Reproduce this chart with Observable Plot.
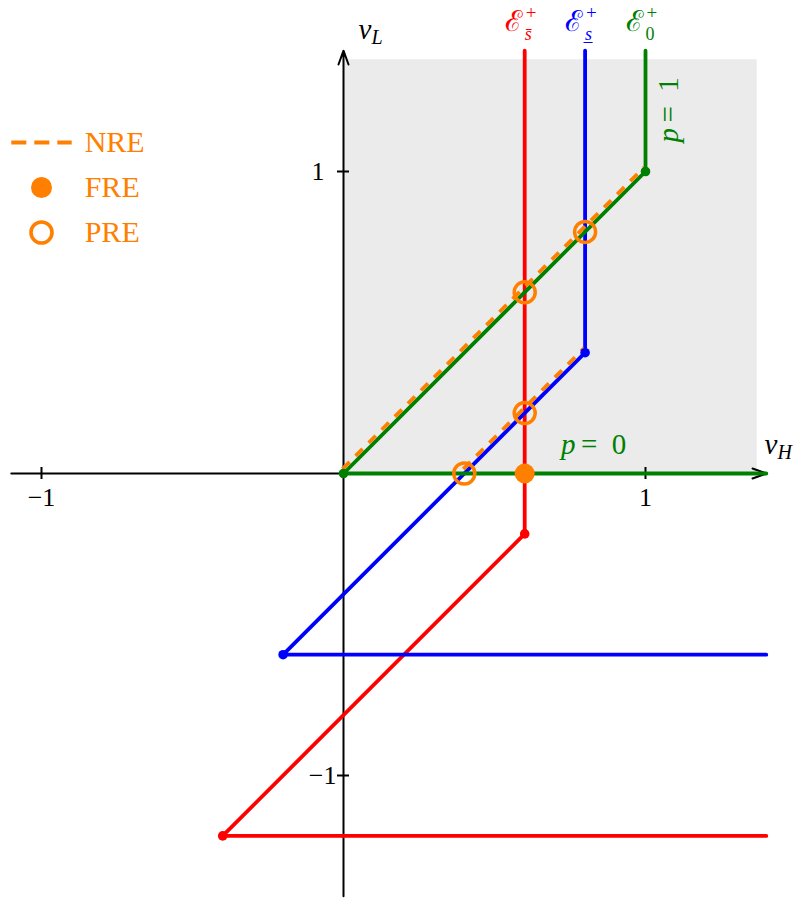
<!DOCTYPE html>
<html>
<head>
<meta charset="utf-8">
<script src="https://cdn.jsdelivr.net/npm/d3@7"></script>
<script src="https://cdn.jsdelivr.net/npm/@observablehq/plot@0.6"></script>
<style>
  html, body { margin: 0; padding: 0; background: #fff; }
</style>
</head>
<body>
<div id="chart"></div>
<script>
// ---------- data (values in chart units) ----------
const redPath   = [[0.6, 1.4], [0.6, -0.2], [-0.4, -1.2], [1.4, -1.2]];
const bluePath  = [[0.8, 1.4], [0.8, 0.4], [-0.2, -0.6], [1.4, -0.6]];
const greenPath = [[1, 1.4], [1, 1], [0, 0], [1.4, 0]];
const redDots   = [[0.6, -0.2], [-0.4, -1.2]];
const blueDots  = [[0.8, 0.4], [-0.2, -0.6]];
const greenDots = [[0, 0], [1, 1]];
const nreSegments = [[0, 0, 1, 1], [0.4, 0, 0.8, 0.4]];
const freDots = [[0.6, 0]];
const preDots = [[0.4, 0], [0.6, 0.2], [0.6, 0.6], [0.8, 0.8]];
const region = [[0, 1.37, 0, 1.37]];           // x1, x2, y1, y2 of the shaded region
const xAxisExtent = [-1.1, 1.4];
const yAxisExtent = [-1.4, 1.4];
const xTicks = [-1, 1];
const xTickLabels = ["\u22121", "1"];
const yTicks = [1, -1];
const yTickLabels = ["1", "\u22121"];
const curveLabelX = [0.6, 0.8, 1];
const curveLabelSubs = ["s\u0304", "s\u0332", "0"];
const curveLabelY = 1.464;
const legendLabels = ["NRE", "FRE", "PRE"];
const legendRowY = [1.096, 0.947, 0.798];
const legendSymbolX = -1.0;
const legendLineX = [-1.1, -0.9];
const legendTextX = -0.857;
const axisLabelAnchors = [[0.05, 1.44], [1.394, 0.066]];   // v_L, v_H
const axisLabelSubs = ["L", "H"];
const pLabelAnchors = [[0.72, 0.066], [1.109, 1.096]];     // p = 0, p = 1
const pLabelValues = ["0", "1"];

// ---------- styles ----------
const RED = "#ff0000", BLUE = "#0000ff", GREEN = "#008000", ORANGE = "#ff8000";
const curveColors = [RED, BLUE, GREEN];
const serif = "'Liberation Serif', 'DejaVu Serif', serif";
const LW = 3.8;

const X = d => d[0], Y = d => d[1];

const marks = [
  Plot.rect(region, {x1: d => d[0], x2: d => d[1], y1: d => d[2], y2: d => d[3], fill: "#ebebeb"}),
  // axes
  Plot.arrow([xAxisExtent], {x1: d => d[0], x2: d => d[1], y1: 0, y2: 0, stroke: "black", strokeWidth: 2, headLength: 11, headAngle: 40}),
  Plot.arrow([yAxisExtent], {x1: 0, x2: 0, y1: d => d[0], y2: d => d[1], stroke: "black", strokeWidth: 2, headLength: 11, headAngle: 40}),
  Plot.ruleX(xTicks, {x: d => d, y1: 0, y2: 0, insetTop: -6, insetBottom: -6, stroke: "black", strokeWidth: 2}),
  Plot.ruleY(yTicks, {y: d => d, x1: 0, x2: 0, insetLeft: -6, insetRight: -6, stroke: "black", strokeWidth: 2}),
  Plot.text(xTicks, {x: d => d, y: 0, text: (d, i) => xTickLabels[i], dy: 32, lineAnchor: "bottom", textAnchor: "middle", fontSize: 26, fontFamily: serif, fill: "black"}),
  Plot.text([yTicks[0]], {x: 0, y: d => d, text: () => yTickLabels[0], dx: -19, lineAnchor: "middle", textAnchor: "end", fontSize: 26, fontFamily: serif, fill: "black"}),
  Plot.text([yTicks[1]], {x: 0, y: d => d, text: () => yTickLabels[1], dx: -7, lineAnchor: "middle", textAnchor: "end", fontSize: 26, fontFamily: serif, fill: "black"}),
  // axis labels
  Plot.text(axisLabelAnchors, {x: X, y: Y, text: () => "v", textAnchor: "start", lineAnchor: "bottom", fontSize: 29, fontStyle: "italic", fontFamily: serif, fill: "black"}),
  Plot.text(axisLabelAnchors, {x: X, y: Y, text: (d, i) => axisLabelSubs[i], dx: 13, dy: 5, textAnchor: "start", lineAnchor: "bottom", fontSize: 20, fontStyle: "italic", fontFamily: serif, fill: "black"}),
  // curves
  Plot.line(redPath, {x: X, y: Y, stroke: RED, strokeWidth: LW}),
  Plot.line(bluePath, {x: X, y: Y, stroke: BLUE, strokeWidth: LW}),
  Plot.line(greenPath, {x: X, y: Y, stroke: GREEN, strokeWidth: LW}),
  // NRE dashed
  Plot.link(nreSegments, {x1: d => d[0], y1: d => d[1], x2: d => d[2], y2: d => d[3], stroke: ORANGE, strokeWidth: 3.8, strokeDasharray: "10,8.5", dx: -1, dy: -4.5}),
  Plot.dot(redDots, {x: X, y: Y, r: 4.8, fill: RED}),
  Plot.dot(blueDots, {x: X, y: Y, r: 4.8, fill: BLUE}),
  Plot.dot(greenDots, {x: X, y: Y, r: 4.8, fill: GREEN}),
  Plot.dot(freDots, {x: X, y: Y, r: 10, fill: ORANGE}),
  Plot.dot(preDots, {x: X, y: Y, r: 10.5, fill: "none", stroke: ORANGE, strokeWidth: 3.5}),
  // p labels
  Plot.text([pLabelAnchors[0]], {x: X, y: Y, text: () => "p", textAnchor: "start", lineAnchor: "bottom", fontSize: 29, fontStyle: "italic", fontFamily: serif, fill: GREEN}),
  Plot.text([pLabelAnchors[0]], {x: X, y: Y, text: () => "=\u2002" + pLabelValues[0], dx: 20, textAnchor: "start", lineAnchor: "bottom", fontSize: 29, fontFamily: serif, fill: GREEN}),
  Plot.text([pLabelAnchors[1]], {x: X, y: Y, text: () => "p", rotate: -90, textAnchor: "start", lineAnchor: "bottom", fontSize: 29, fontStyle: "italic", fontFamily: serif, fill: GREEN}),
  Plot.text([pLabelAnchors[1]], {x: X, y: Y, text: () => "=\u2002" + pLabelValues[1], rotate: -90, dy: -20, textAnchor: "start", lineAnchor: "bottom", fontSize: 29, fontFamily: serif, fill: GREEN}),
];

// curve labels  E_sub^+
curveLabelX.forEach((lx, i) => {
  const c = curveColors[i];
  marks.push(
    Plot.text([lx], {x: d => d, y: curveLabelY, text: () => "\u2130", dx: -3, textAnchor: "end", lineAnchor: "bottom", fontSize: 29, fontFamily: serif, fill: c}),
    Plot.text([lx], {x: d => d, y: curveLabelY, text: () => "+", dx: 1, dy: -12, textAnchor: "start", lineAnchor: "bottom", fontSize: 19, fontFamily: serif, fill: c}),
    Plot.text([lx], {x: d => d, y: curveLabelY, text: () => curveLabelSubs[i], dx: 0, dy: 9, textAnchor: "start", lineAnchor: "bottom", fontSize: 18, fontStyle: i === 2 ? "normal" : "italic", fontFamily: serif, fill: c})
  );
});

// legend
marks.push(
  Plot.link([legendRowY[0]], {x1: legendLineX[0], x2: legendLineX[1], y1: d => d, y2: d => d, stroke: ORANGE, strokeWidth: 3.8, strokeDasharray: "15,8"}),
  Plot.dot([legendRowY[1]], {x: legendSymbolX, y: d => d, r: 10.5, fill: ORANGE}),
  Plot.dot([legendRowY[2]], {x: legendSymbolX, y: d => d, r: 10.5, fill: "none", stroke: ORANGE, strokeWidth: 3.6}),
  Plot.text(legendRowY, {x: legendTextX, y: d => d, text: (d, i) => legendLabels[i], textAnchor: "start", lineAnchor: "middle", fontSize: 30, fontFamily: serif, fill: ORANGE})
);

const chart = Plot.plot({
  width: 798,
  height: 898,
  margin: 0,
  x: {domain: [-343 / 302, 455 / 302], axis: null},
  y: {domain: [-425 / 302, 473 / 302], axis: null},
  style: {background: "white", overflow: "visible"},
  marks
});
document.getElementById("chart").appendChild(chart);
</script>
</body>
</html>
